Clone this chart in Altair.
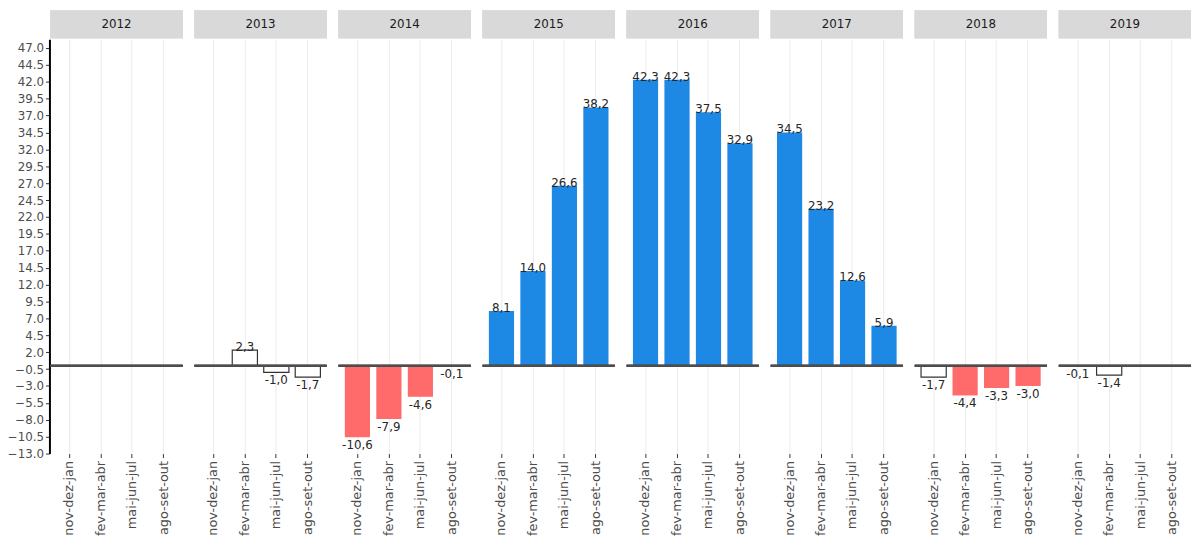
import altair as alt
import pandas as pd

years = ["2012", "2013", "2014", "2015", "2016", "2017", "2018", "2019"]
periods = ["nov-dez-jan", "fev-mar-abr", "mai-jun-jul", "ago-set-out"]

v2012 = [None, None, None, None]
v2013 = [None, 2.3, -1.0, -1.7]
v2014 = [-10.6, -7.9, -4.6, -0.1]
v2015 = [8.1, 14.0, 26.6, 38.2]
v2016 = [42.3, 42.3, 37.5, 32.9]
v2017 = [34.5, 23.2, 12.6, 5.9]
v2018 = [-1.7, -4.4, -3.3, -3.0]
v2019 = [-0.1, -1.4, None, None]

s2012 = ["ns", "ns", "ns", "ns"]
s2013 = ["ns", "ns", "ns", "ns"]
s2014 = ["neg", "neg", "neg", "neg"]
s2015 = ["pos", "pos", "pos", "pos"]
s2016 = ["pos", "pos", "pos", "pos"]
s2017 = ["pos", "pos", "pos", "pos"]
s2018 = ["ns", "neg", "neg", "neg"]
s2019 = ["ns", "ns", "ns", "ns"]

y_ticks = [-13.0, -10.5, -8.0, -5.5, -3.0, -0.5, 2.0, 4.5, 7.0, 9.5, 12.0, 14.5,
           17.0, 19.5, 22.0, 24.5, 27.0, 29.5, 32.0, 34.5, 37.0, 39.5, 42.0,
           44.5, 47.0]

all_vals = [v2012, v2013, v2014, v2015, v2016, v2017, v2018, v2019]
all_stat = [s2012, s2013, s2014, s2015, s2016, s2017, s2018, s2019]

rows = []
for yr, vals, stats in zip(years, all_vals, all_stat):
    for p, v, s in zip(periods, vals, stats):
        rows.append({
            "year": yr,
            "period": p,
            "value": v,
            "sig": s,
            "label": (f"{v:.1f}".replace(".", ",") if v is not None else ""),
        })
df = pd.DataFrame(rows)

W = 134
H = 420
FONT = "DejaVu Sans"

x_enc = alt.X(
    "period:N",
    scale=alt.Scale(domain=periods, paddingInner=0.2, paddingOuter=0.2),
    axis=alt.Axis(
        labelAngle=-90, labelFont=FONT, labelFontSize=13, labelColor="#4d4d4d",
        labelPadding=3, domain=False, ticks=True, tickColor="#333333",
        tickSize=4, grid=True, gridColor="#ebebeb", gridWidth=1,
    ),
    title=None,
)
y_enc = alt.Y(
    "value:Q",
    scale=alt.Scale(domain=[-13, 48.3], nice=False, zero=False),
    axis=alt.Axis(
        values=y_ticks, tickCount=40, format=".1f", labelFont=FONT,
        labelFontSize=12, labelColor="#4d4d4d", labelPadding=2,
        tickColor="#333333", tickSize=4, domainColor="#000000", domainWidth=2,
        grid=False, labelOverlap=False,
    ),
    title=None,
)

base = alt.Chart(df)

strip = base.mark_rect(color="#d9d9d9").encode(
    x=alt.value(0), x2=alt.value(W), y=alt.value(-29), y2=alt.value(-1)
)
year_text = base.mark_text(
    font=FONT, fontSize=12, color="#1a1a1a", baseline="middle", align="center"
).encode(
    x=alt.value(W / 2), y=alt.value(-15), text="year:N"
).transform_filter(alt.datum.period == periods[0])

bars = base.mark_bar(strokeWidth=1.2).encode(
    x=x_enc,
    y=y_enc,
    fill=alt.Fill("sig:N", scale=alt.Scale(domain=["pos", "neg", "ns"],
                                          range=["#1e88e5", "#ff6b6b", "#ffffff"]),
                  legend=None),
    stroke=alt.Stroke("sig:N", scale=alt.Scale(domain=["pos", "neg", "ns"],
                                              range=["transparent", "transparent", "#333333"]),
                      legend=None),
)

zero = base.mark_rule(color="#4d4d4d", strokeWidth=2).encode(
    x=alt.value(0), x2=alt.value(W), y=alt.datum(0)
)

lab_pos = base.mark_text(
    font=FONT, fontSize=12, color="#262626", baseline="alphabetic", dy=1
).encode(x=x_enc, y=y_enc, text="label:N").transform_filter(
    "isValid(datum.value) && datum.value >= 0"
)
lab_neg = base.mark_text(
    font=FONT, fontSize=12, color="#262626", baseline="top", dy=3
).encode(x=x_enc, y=y_enc, text="label:N").transform_filter(
    "isValid(datum.value) && datum.value < 0"
)

layered = alt.layer(strip, year_text, bars, zero, lab_pos, lab_neg).properties(
    width=W, height=H
)

chart = layered.facet(
    column=alt.Column("year:N", header=alt.Header(labels=False, labelPadding=0,
                                                  titlePadding=0), title=None),
    spacing=10,
).configure_view(strokeWidth=0).properties(
    padding={"left": -1, "top": -1, "right": 0, "bottom": 0}
)

chart.save("out.html", embed_options={"renderer": "svg", "actions": False})
